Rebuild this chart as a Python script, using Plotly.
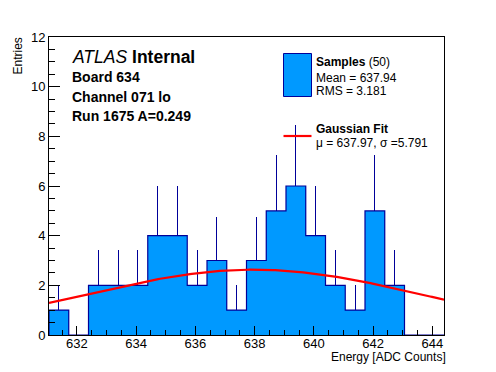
import numpy as np
import plotly.graph_objects as go

# ---- data ----
hist_lo = 631.06
hist_hi = 644.39
n_bins = 20
counts = [1, 0, 2, 2, 2, 4, 4, 2, 3, 1, 3, 5, 6, 4, 2, 1, 5, 2, 0, 0]
fit_amp = 2.63
fit_mu = 637.97
fit_sigma = 5.791
x_ticks = [632, 634, 636, 638, 640, 642, 644]
y_ticks = [0, 2, 4, 6, 8, 10, 12]

FILL = "#0099ff"
NAVY = "#000099"
FONT = "Liberation Sans, Arial, Helvetica, sans-serif"

edges = np.linspace(hist_lo, hist_hi, n_bins + 1)
centers = 0.5 * (edges[:-1] + edges[1:])
bw = edges[1] - edges[0]
cnt = np.array(counts, dtype=float)
err = np.sqrt(cnt)

fig = go.Figure()
fig.add_trace(go.Bar(
    x=centers, y=cnt, width=bw,
    marker=dict(color=FILL, line=dict(width=0)),
    error_y=dict(type="data", symmetric=False, array=err, arrayminus=np.zeros_like(err),
                 width=0, thickness=1, color=NAVY),
    showlegend=False, hoverinfo="skip",
))
step_x = [edges[0]] + list(edges)
step_y = [0] + list(cnt) + [0]
fig.add_trace(go.Scatter(
    x=step_x, y=step_y, mode="lines", line=dict(shape="hv", color=NAVY, width=1.2),
    showlegend=False, hoverinfo="skip",
))
xf = np.linspace(hist_lo, hist_hi, 200)
yf = fit_amp * np.exp(-0.5 * ((xf - fit_mu) / fit_sigma) ** 2)
fig.add_trace(go.Scatter(
    x=xf, y=yf, mode="lines", line=dict(color="#ff0000", width=2.2),
    showlegend=False, hoverinfo="skip",
))

# page body has an 8px margin; work in reference pixel coords and shift
OFF = 8
W, H = 496 - OFF, 372 - OFF
L, R, T, B = 49, 444, 37, 335  # plot frame in reference pixels
def px(x):
    return (x - L) / (R - L)
def py(y):
    return (B - y) / (B - T)

def txt(x, y, s, size, xanchor="left", yanchor="middle", angle=0):
    fig.add_annotation(x=px(x), y=py(y), xref="paper", yref="paper", text=s,
                       showarrow=False, xanchor=xanchor, yanchor=yanchor,
                       textangle=angle, borderpad=0,
                       font=dict(family=FONT, size=size, color="black"))

txt(71, 57, "<i>ATLAS</i> <b>Internal</b>", 17.5)
txt(71, 77, "<b>Board 634</b>", 14)
txt(71, 97, "<b>Channel 071 lo</b>", 14)
txt(71, 115.5, "<b>Run 1675 A=0.249</b>", 14)

# legend
fig.add_shape(type="rect", xref="paper", yref="paper",
              x0=px(283.5), x1=px(311.5), y0=py(96.5), y1=py(53.5),
              fillcolor=FILL, line=dict(color=NAVY, width=1))
fig.add_shape(type="line", xref="paper", yref="paper",
              x0=px(283.5), x1=px(311.5), y0=py(136), y1=py(136),
              line=dict(color="#ff0000", width=2.2))
txt(315, 62.5, "<b>Samples</b> (50)", 12)
txt(315, 77.5, "Mean = 637.94", 12)
txt(315, 90.5, "RMS = 3.181", 12)
txt(315, 129, "<b>Gaussian Fit</b>", 12)
txt(315, 142.5, "μ = 637.97, σ =5.791", 12)

# axis titles
txt(447, 357, "Energy [ADC Counts]", 12, xanchor="right")
txt(17, 37, "Entries", 12, xanchor="center", yanchor="top", angle=-90)

axis_common = dict(showgrid=False, zeroline=False, showline=True, linecolor="black",
                   linewidth=1, mirror=True, ticks="inside", tickcolor="black",
                   tickwidth=1, tickfont=dict(family=FONT, size=13, color="black"))
fig.update_xaxes(range=[hist_lo, hist_hi], tickvals=x_ticks, ticklen=9,
                 ticklabelstandoff=-4,
                 minor=dict(dtick=0.5, ticks="inside", ticklen=5, tickcolor="black"),
                 **axis_common)
fig.update_yaxes(range=[0, 12], tickvals=y_ticks, ticklen=11, ticklabelstandoff=0,
                 minor=dict(dtick=0.5, ticks="inside", ticklen=6, tickcolor="black"),
                 **axis_common)
fig.update_layout(width=W, height=H,
                  margin=dict(l=L - OFF, r=496 - R, t=T - OFF, b=372 - B),
                  paper_bgcolor="white", plot_bgcolor="white", bargap=0,
                  font=dict(family=FONT))
fig.write_html("out.html")
